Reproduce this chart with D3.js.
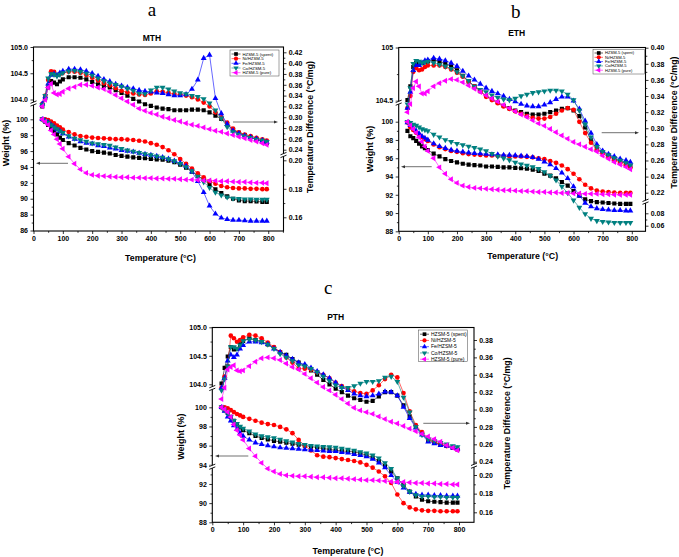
<!DOCTYPE html>
<html lang="en">
<head>
<meta charset="utf-8">
<title>TGA / DTA of spent HZSM-5 catalysts</title>
<script src="https://d3js.org/d3.v7.min.js"></script>
<style>
  body { margin: 0; background: #fff; }
  svg { display: block; font-family: Arial, "Liberation Sans", sans-serif; }
</style>
</head>
<body>
<script>
// ---------- data ----------
const tempC = [30, 40, 50, 60, 70, 80, 90,
  100, 120, 140, 160, 180, 200, 220, 240, 260, 280,
  300, 320, 340, 360, 380, 400, 420, 440, 460, 480,
  500, 520, 540, 560, 580, 600, 620, 640, 660, 680,
  700, 720, 740, 760, 780, 795];

const seriesNames = ['HZSM-5 (spent)', 'Ni/HZSM-5', 'Fe/HZSM-5', 'Co/HZSM-5', 'HZSM-5 (pure)'];

const tempTicks = [0, 100, 200, 300, 400, 500, 600, 700, 800];
const mthWtTicks = [86, 88, 90, 92, 94, 96, 98, 100];
const mthWtUpTicks = [104.0, 104.5, 105.0];
const mthDtaTicks = [0.24, 0.26, 0.28, 0.30, 0.32, 0.34, 0.36, 0.38, 0.40, 0.42];
const mthDtaLowTicks = [0.16, 0.18, 0.20];
const ethWtTicks = [88, 90, 92, 94, 96, 98, 100];
const ethWtUpTicks = [104.5, 105];
const ethDtaTicks = [0.22, 0.24, 0.26, 0.28, 0.30, 0.32, 0.34, 0.36, 0.38, 0.40];
const ethDtaLowTicks = [0.06, 0.08];
const pthWtTicks = [88, 90, 92, 94, 96, 98, 100];
const pthWtUpTicks = [104.0, 104.5, 105.0];
const pthDtaTicks = [0.24, 0.26, 0.28, 0.30, 0.32, 0.34, 0.36, 0.38];
const pthDtaLowTicks = [0.16, 0.18, 0.20];

// MTH weight (%)
const mthWtSpent = [100.0, 99.7, 99.3, 98.9, 98.5, 98.1, 97.7,
  97.4, 97.0, 96.7, 96.4, 96.2, 96.0, 95.9, 95.8, 95.7, 95.5,
  95.4, 95.3, 95.2, 95.15, 95.1, 95.0, 94.95, 94.9, 94.8, 94.6,
  94.3, 93.9, 93.4, 92.9, 92.4, 91.8, 91.2, 90.7, 90.3, 90.0,
  89.8, 89.7, 89.7, 89.65, 89.6, 89.6];
const mthWtNi = [100.0, 100.0, 99.9, 99.7, 99.5, 99.2, 99.0,
  98.7, 98.4, 98.1, 97.9, 97.8, 97.7, 97.65, 97.6, 97.55, 97.5,
  97.5, 97.45, 97.4, 97.3, 97.2, 97.0, 96.8, 96.5, 96.1, 95.6,
  95.0, 94.4, 93.8, 93.2, 92.7, 92.2, 91.9, 91.6, 91.45, 91.35,
  91.3, 91.3, 91.25, 91.25, 91.2, 91.2];
const mthWtFe = [100.0, 99.8, 99.6, 99.3, 99.0, 98.7, 98.5,
  98.2, 97.8, 97.5, 97.2, 97.0, 96.9, 96.7, 96.6, 96.4, 96.3,
  96.1, 96.0, 95.9, 95.75, 95.6, 95.5, 95.35, 95.2, 95.0, 94.75,
  94.5, 94.1, 93.4, 92.2, 90.8, 89.1, 88.1, 87.6, 87.4, 87.3,
  87.3, 87.25, 87.2, 87.2, 87.2, 87.2];
const mthWtCo = [100.0, 99.8, 99.6, 99.3, 99.0, 98.8, 98.5,
  98.3, 97.9, 97.6, 97.4, 97.2, 97.0, 96.9, 96.8, 96.7, 96.5,
  96.3, 96.1, 95.95, 95.8, 95.65, 95.5, 95.35, 95.2, 95.0, 94.75,
  94.4, 94.0, 93.5, 92.8, 92.1, 91.4, 90.8, 90.45, 90.2, 90.05,
  90.0, 89.95, 89.95, 89.9, 89.9, 89.9];
const mthWtPure = [100.0, 99.7, 99.3, 98.6, 98.1, 97.5, 96.9,
  96.3, 95.3, 94.4, 93.7, 93.25, 93.0, 92.9, 92.85, 92.8, 92.75,
  92.7, 92.7, 92.65, 92.65, 92.6, 92.6, 92.55, 92.55, 92.5, 92.5,
  92.45, 92.4, 92.4, 92.35, 92.3, 92.3, 92.25, 92.2, 92.2, 92.15,
  92.1, 92.1, 92.05, 92.0, 92.0, 91.95];

// MTH temperature difference (°C/mg)
const mthDtaSpent = [0.320, 0.335, 0.355, 0.367, 0.364, 0.361, 0.366,
  0.370, 0.374, 0.374, 0.373, 0.370, 0.365, 0.361, 0.358, 0.355, 0.350,
  0.345, 0.340, 0.334, 0.329, 0.324, 0.321, 0.318, 0.316, 0.315, 0.313,
  0.313, 0.313, 0.314, 0.314, 0.313, 0.309, 0.303, 0.297, 0.287, 0.277,
  0.271, 0.267, 0.263, 0.259, 0.255, 0.252];
const mthDtaNi = [0.325, 0.340, 0.369, 0.385, 0.384, 0.378, 0.380,
  0.382, 0.384, 0.384, 0.382, 0.378, 0.373, 0.368, 0.363, 0.359, 0.354,
  0.349, 0.346, 0.344, 0.342, 0.341, 0.344, 0.348, 0.347, 0.345, 0.343,
  0.342, 0.340, 0.337, 0.333, 0.327, 0.320, 0.309, 0.300, 0.290, 0.279,
  0.272, 0.268, 0.265, 0.262, 0.259, 0.257];
const mthDtaFe = [0.325, 0.338, 0.362, 0.378, 0.380, 0.378, 0.382,
  0.385, 0.389, 0.389, 0.388, 0.385, 0.381, 0.376, 0.370, 0.366, 0.361,
  0.358, 0.355, 0.353, 0.350, 0.348, 0.347, 0.345, 0.344, 0.342, 0.340,
  0.340, 0.342, 0.352, 0.369, 0.409, 0.415, 0.335, 0.307, 0.287, 0.275,
  0.270, 0.266, 0.263, 0.260, 0.257, 0.254];
const mthDtaCo = [0.323, 0.340, 0.372, 0.380, 0.379, 0.376, 0.379,
  0.382, 0.385, 0.386, 0.384, 0.381, 0.377, 0.372, 0.367, 0.363, 0.360,
  0.357, 0.353, 0.349, 0.344, 0.343, 0.350, 0.355, 0.355, 0.352, 0.348,
  0.345, 0.343, 0.340, 0.338, 0.334, 0.326, 0.313, 0.298, 0.282, 0.273,
  0.268, 0.265, 0.262, 0.259, 0.257, 0.255];
const mthDtaPure = [0.320, 0.332, 0.355, 0.362, 0.345, 0.342, 0.343,
  0.347, 0.353, 0.356, 0.360, 0.360, 0.358, 0.355, 0.352, 0.347, 0.341,
  0.335, 0.329, 0.323, 0.316, 0.312, 0.308, 0.305, 0.301, 0.298, 0.295,
  0.292, 0.289, 0.286, 0.284, 0.281, 0.278, 0.275, 0.273, 0.270, 0.267,
  0.264, 0.261, 0.258, 0.255, 0.252, 0.249];

// ETH weight (%)
const ethWtSpent = [99.0, 98.4, 98.2, 97.9, 97.6, 97.3, 97.1,
  96.9, 96.5, 96.2, 95.9, 95.7, 95.55, 95.4, 95.3, 95.25, 95.2,
  95.1, 95.1, 95.05, 95.0, 95.0, 94.95, 94.9, 94.85, 94.75, 94.6,
  94.3, 94.1, 93.8, 93.4, 93.0, 92.4, 91.9, 91.5, 91.3, 91.2,
  91.15, 91.1, 91.05, 91.0, 91.0, 91.0];
const ethWtNi = [99.9, 99.4, 99.1, 98.8, 98.6, 98.3, 98.1,
  97.9, 97.5, 97.2, 97.0, 96.8, 96.7, 96.55, 96.45, 96.4, 96.35,
  96.3, 96.3, 96.25, 96.25, 96.2, 96.2, 96.2, 96.15, 96.1, 96.0,
  95.9, 95.7, 95.5, 95.2, 94.8, 94.3, 93.7, 93.1, 92.7, 92.45,
  92.35, 92.3, 92.25, 92.2, 92.2, 92.2];
const ethWtFe = [99.9, 99.6, 99.3, 99.0, 98.7, 98.4, 98.2,
  98.0, 97.6, 97.3, 97.1, 96.9, 96.8, 96.7, 96.6, 96.55, 96.5,
  96.45, 96.4, 96.4, 96.35, 96.35, 96.3, 96.25, 96.2, 96.1, 95.9,
  95.6, 95.3, 94.9, 94.4, 93.8, 92.9, 91.9, 91.1, 90.7, 90.5,
  90.4, 90.35, 90.3, 90.3, 90.25, 90.25];
const ethWtCo = [100.0, 99.9, 99.7, 99.6, 99.4, 99.2, 99.1,
  99.0, 98.6, 98.3, 98.0, 97.8, 97.6, 97.45, 97.3, 97.15, 97.0,
  96.8, 96.5, 96.2, 96.0, 95.8, 95.55, 95.35, 95.2, 95.05, 94.85,
  94.5, 94.1, 93.6, 92.9, 92.2, 91.4, 90.6, 89.9, 89.4, 89.15,
  89.05, 89.0, 88.95, 88.95, 88.95, 88.95];
const ethWtPure = [100.0, 99.6, 99.2, 98.8, 98.3, 97.8, 97.3,
  96.8, 96.0, 95.0, 94.3, 93.7, 93.3, 93.0, 92.85, 92.75, 92.7,
  92.65, 92.6, 92.55, 92.5, 92.5, 92.45, 92.4, 92.4, 92.35, 92.3,
  92.3, 92.25, 92.25, 92.2, 92.2, 92.15, 92.15, 92.1, 92.1, 92.1,
  92.05, 92.05, 92.0, 92.0, 92.0, 92.0];

// ETH temperature difference (°C/mg)
const ethDtaSpent = [0.335, 0.352, 0.376, 0.381, 0.381, 0.381, 0.382,
  0.383, 0.385, 0.383, 0.380, 0.377, 0.372, 0.365, 0.358, 0.352, 0.346,
  0.340, 0.336, 0.332, 0.328, 0.325, 0.322, 0.320, 0.318, 0.317, 0.317,
  0.318, 0.320, 0.322, 0.324, 0.325, 0.322, 0.315, 0.301, 0.285, 0.274,
  0.270, 0.266, 0.262, 0.259, 0.256, 0.253];
const ethDtaNi = [0.325, 0.340, 0.370, 0.375, 0.372, 0.373, 0.376,
  0.378, 0.378, 0.378, 0.376, 0.373, 0.369, 0.364, 0.358, 0.352, 0.346,
  0.339, 0.335, 0.331, 0.327, 0.324, 0.321, 0.318, 0.315, 0.313, 0.312,
  0.312, 0.314, 0.318, 0.322, 0.325, 0.323, 0.308, 0.294, 0.282, 0.273,
  0.269, 0.264, 0.260, 0.257, 0.254, 0.251];
const ethDtaFe = [0.325, 0.345, 0.372, 0.378, 0.378, 0.381, 0.384,
  0.385, 0.387, 0.386, 0.384, 0.381, 0.377, 0.371, 0.365, 0.360, 0.355,
  0.350, 0.346, 0.343, 0.340, 0.336, 0.333, 0.330, 0.328, 0.327, 0.327,
  0.329, 0.332, 0.336, 0.339, 0.339, 0.334, 0.324, 0.309, 0.294, 0.280,
  0.272, 0.268, 0.265, 0.262, 0.260, 0.258];
const ethDtaCo = [0.330, 0.350, 0.380, 0.384, 0.383, 0.381, 0.382,
  0.383, 0.381, 0.379, 0.377, 0.374, 0.370, 0.365, 0.359, 0.352, 0.348,
  0.345, 0.341, 0.338, 0.336, 0.335, 0.337, 0.340, 0.342, 0.344, 0.345,
  0.346, 0.347, 0.347, 0.346, 0.342, 0.335, 0.322, 0.305, 0.289, 0.277,
  0.271, 0.267, 0.263, 0.260, 0.257, 0.254];
const ethDtaPure = [0.320, 0.330, 0.350, 0.358, 0.352, 0.343, 0.343,
  0.346, 0.352, 0.356, 0.359, 0.361, 0.360, 0.357, 0.353, 0.349, 0.345,
  0.341, 0.337, 0.333, 0.329, 0.325, 0.321, 0.317, 0.314, 0.310, 0.306,
  0.303, 0.299, 0.295, 0.291, 0.287, 0.283, 0.280, 0.277, 0.274, 0.271,
  0.266, 0.262, 0.258, 0.255, 0.252, 0.249];

// PTH weight (%)
const pthWtSpent = [100.0, 99.7, 99.4, 99.0, 98.6, 98.2, 97.9,
  97.6, 97.3, 97.0, 96.8, 96.65, 96.5, 96.4, 96.3, 96.2, 96.1,
  96.0, 95.9, 95.8, 95.7, 95.6, 95.5, 95.45, 95.4, 95.35, 95.2,
  95.0, 94.75, 94.4, 93.9, 93.3, 92.6, 91.9, 91.2, 90.7, 90.35,
  90.2, 90.15, 90.1, 90.05, 90.05, 90.05];
const pthWtNi = [100.0, 100.0, 99.9, 99.7, 99.5, 99.3, 99.15,
  99.0, 98.8, 98.6, 98.4, 98.25, 98.15, 97.95, 97.7, 97.3, 96.6,
  96.0, 95.5, 95.0, 94.85, 94.8, 94.7, 94.6, 94.5, 94.4, 94.25,
  94.0, 93.7, 93.3, 92.8, 92.1, 90.9, 90.0, 89.55, 89.35, 89.25,
  89.2, 89.2, 89.15, 89.15, 89.15, 89.15];
const pthWtFe = [100.0, 99.6, 99.0, 98.6, 98.1, 97.7, 97.3,
  97.0, 96.6, 96.3, 96.15, 96.0, 95.9, 95.8, 95.75, 95.7, 95.65,
  95.6, 95.55, 95.5, 95.45, 95.4, 95.4, 95.3, 95.25, 95.1, 95.0,
  94.85, 94.6, 94.2, 93.7, 92.9, 92.2, 91.6, 91.15, 90.95, 90.85,
  90.85, 90.8, 90.8, 90.75, 90.75, 90.75];
const pthWtCo = [100.0, 99.7, 99.4, 99.0, 98.6, 98.3, 98.0,
  97.8, 97.5, 97.2, 97.0, 96.9, 96.8, 96.65, 96.5, 96.35, 96.2,
  96.1, 96.0, 95.95, 95.9, 95.85, 95.8, 95.7, 95.6, 95.5, 95.35,
  95.2, 95.0, 94.7, 94.2, 93.6, 92.6, 91.8, 91.2, 90.85, 90.7,
  90.7, 90.65, 90.65, 90.6, 90.6, 90.6];
const pthWtPure = [100.0, 99.8, 99.5, 99.0, 98.2, 97.6, 97.1,
  96.6, 95.7, 94.9, 94.2, 93.6, 93.3, 93.05, 92.9, 92.85, 92.8,
  92.8, 92.75, 92.7, 92.7, 92.65, 92.6, 92.6, 92.55, 92.5, 92.45,
  92.4, 92.4, 92.35, 92.3, 92.25, 92.2, 92.2, 92.15, 92.1, 92.1,
  92.05, 92.05, 92.0, 92.0, 91.95, 91.95];

// PTH temperature difference (°C/mg)
const pthDtaSpent = [0.330, 0.348, 0.361, 0.372, 0.369, 0.370, 0.375,
  0.379, 0.382, 0.380, 0.378, 0.375, 0.371, 0.366, 0.363, 0.358, 0.354,
  0.350, 0.345, 0.340, 0.334, 0.329, 0.324, 0.320, 0.316, 0.313, 0.311,
  0.309, 0.310, 0.315, 0.320, 0.320, 0.316, 0.305, 0.292, 0.280, 0.273,
  0.265, 0.262, 0.260, 0.258, 0.256, 0.254];
const pthDtaNi = [0.325, 0.338, 0.350, 0.385, 0.382, 0.378, 0.380,
  0.383, 0.386, 0.385, 0.382, 0.377, 0.372, 0.366, 0.360, 0.354, 0.347,
  0.347, 0.346, 0.343, 0.340, 0.336, 0.331, 0.327, 0.324, 0.321, 0.319,
  0.318, 0.322, 0.328, 0.335, 0.340, 0.337, 0.319, 0.298, 0.282, 0.274,
  0.266, 0.263, 0.260, 0.258, 0.256, 0.254];
const pthDtaFe = [0.325, 0.336, 0.356, 0.363, 0.360, 0.363, 0.370,
  0.374, 0.378, 0.378, 0.377, 0.375, 0.370, 0.366, 0.362, 0.358, 0.354,
  0.352, 0.348, 0.344, 0.340, 0.336, 0.331, 0.326, 0.322, 0.318, 0.316,
  0.315, 0.316, 0.318, 0.3205, 0.320, 0.316, 0.303, 0.290, 0.279, 0.271,
  0.263, 0.261, 0.259, 0.258, 0.256, 0.255];
const pthDtaCo = [0.322, 0.335, 0.350, 0.372, 0.372, 0.370, 0.374,
  0.379, 0.381, 0.380, 0.378, 0.375, 0.370, 0.364, 0.360, 0.356, 0.351,
  0.350, 0.347, 0.343, 0.338, 0.333, 0.328, 0.325, 0.325, 0.327, 0.330,
  0.332, 0.332, 0.333, 0.337, 0.338, 0.332, 0.314, 0.297, 0.280, 0.271,
  0.266, 0.264, 0.262, 0.260, 0.258, 0.257];
const pthDtaPure = [0.312, 0.325, 0.346, 0.349, 0.351, 0.345, 0.344,
  0.345, 0.350, 0.355, 0.359, 0.360, 0.359, 0.357, 0.353, 0.349, 0.346,
  0.341, 0.336, 0.331, 0.326, 0.322, 0.317, 0.312, 0.307, 0.302, 0.299,
  0.297, 0.295, 0.292, 0.289, 0.286, 0.284, 0.281, 0.278, 0.275, 0.272,
  0.269, 0.266, 0.263, 0.259, 0.256, 0.253];

// ---------- panels ----------
const panels = [
  { letter: 'a', title: 'MTH',
    weight: [mthWtSpent, mthWtNi, mthWtFe, mthWtCo, mthWtPure],
    dta: [mthDtaSpent, mthDtaNi, mthDtaFe, mthDtaCo, mthDtaPure],
    left: 33.5, right: 283.5, top: 47, bottom: 231, xMax: 852,
    wTicks: mthWtTicks, wDomain: [86, 100], wRange: [230.5, 119.3],
    wuTicks: mthWtUpTicks, wuFmt: d3.format('.1f'), wuDomain: [104, 105], wuRange: [99.5, 47],
    dTicks: mthDtaTicks, dDomain: [0.24, 0.42], dRange: [149.7, 52.3],
    dlTicks: mthDtaLowTicks, dlDomain: [0.16, 0.20], dlRange: [217.3, 160.3],
    leftBreaks: [103.5], rightBreaks: [155],
    legend: { x0: 230, y0: 50, x1: 279, y1: 76, row0: 54, step: 4.67, font: 4.3, lx0: 231.5, lx1: 240.5, tx: 242.5 },
    arrows: [[68, 163.3, 36], [233, 122, 278]],
    pos: { letter: [152, 16], title: [152, 40.5], xTitle: [160.5, 261], yTitle: [8.5, 143], rTitle: [313, 127] } },
  { letter: 'b', title: 'ETH',
    weight: [ethWtSpent, ethWtNi, ethWtFe, ethWtCo, ethWtPure],
    dta: [ethDtaSpent, ethDtaNi, ethDtaFe, ethDtaCo, ethDtaPure],
    left: 398.7, right: 645.5, top: 47.5, bottom: 231.3, xMax: 847,
    wTicks: ethWtTicks, wDomain: [88, 100], wRange: [231.3, 121.7],
    wuTicks: ethWtUpTicks, wuFmt: d => d === 105 ? '105' : '104.5', wuDomain: [104.5, 105], wuRange: [100.7, 47.5],
    dTicks: ethDtaTicks, dDomain: [0.22, 0.40], dRange: [192.7, 47.7],
    dlTicks: ethDtaLowTicks, dlDomain: [0.06, 0.08], dlRange: [225.7, 213.3],
    leftBreaks: [102.7], rightBreaks: [201.7],
    legend: { x0: 593, y0: 49.5, x1: 644.5, y1: 74, row0: 53, step: 4.3, font: 4.1, lx0: 594.5, lx1: 603, tx: 605 },
    arrows: [[431.7, 166.7, 401], [601.7, 132.7, 639]],
    pos: { letter: [515.7, 17.5], title: [516.7, 36], xTitle: [522.7, 258.5], yTitle: [373, 149], rTitle: [676.5, 122.5] } },
  { letter: 'c', title: 'PTH',
    weight: [pthWtSpent, pthWtNi, pthWtFe, pthWtCo, pthWtPure],
    dta: [pthDtaSpent, pthDtaNi, pthDtaFe, pthDtaCo, pthDtaPure],
    left: 212.3, right: 474, top: 327.5, bottom: 522.3, xMax: 848.6,
    wTicks: pthWtTicks, wDomain: [88, 100], wRange: [522.3, 407.3],
    wuTicks: pthWtUpTicks, wuFmt: d3.format('.1f'), wuDomain: [104, 105], wuRange: [384.3, 327.3],
    dTicks: pthDtaTicks, dDomain: [0.24, 0.38], dRange: [461.7, 340],
    dlTicks: pthDtaLowTicks, dlDomain: [0.16, 0.20], dlRange: [512.3, 475],
    leftBreaks: [388, 466.7], rightBreaks: [465.7],
    legend: { x0: 418.3, y0: 330, x1: 467.7, y1: 361.7, row0: 334.2, step: 6.25, font: 5, lx0: 420, lx1: 429, tx: 431 },
    arrows: [[248.3, 456, 215], [423.3, 423.3, 470]],
    pos: { letter: [328.3, 294], title: [335.7, 319.5], xTitle: [348, 554], yTitle: [184, 436.7], rTitle: [510, 423.3] } }
];

const colors = ['#000000', '#ff0000', '#0000ff', '#008080', '#ff00ff'];
const shapes = [d3.symbolSquare, d3.symbolCircle, d3.symbolTriangle, d3.symbolTriangle, d3.symbolTriangle];
const angles = [0, 0, 0, 180, -90];
const sizes = [17, 17, 15, 15, 15];

const svg = d3.select('body')
              .append('svg')
              .attr('width', 679)
              .attr('height', 557);

panels.forEach((p, i) => drawPanel(p, i));

function styleTicks(sel, size) {
  sel.select('.domain').remove();
  sel.selectAll('line').attr('stroke', '#000').attr('stroke-width', 0.8);
  sel.selectAll('text')
     .attr('font-size', size)
     .attr('font-weight', 'bold')
     .attr('fill', '#000')
     .attr('font-family', 'Arial, "Liberation Sans", sans-serif');
}

function minorOf(ticks) {
  const out = [];
  for (let k = 0; k < ticks.length - 1; k++) out.push((ticks[k] + ticks[k + 1]) / 2);
  return out;
}

function drawPanel(p, idx) {
  const g = svg.append('g');

  const x = d3.scaleLinear().domain([0, p.xMax]).range([p.left, p.right]);
  const yW = d3.scaleLinear().domain(p.wDomain).range(p.wRange);
  const yWU = d3.scaleLinear().domain(p.wuDomain).range(p.wuRange);
  const yD = d3.scaleLinear().domain(p.dDomain).range(p.dRange);
  const yDL = d3.scaleLinear().domain(p.dlDomain).range(p.dlRange);

  // frame
  g.append('rect')
   .attr('x', p.left).attr('y', p.top)
   .attr('width', p.right - p.left).attr('height', p.bottom - p.top)
   .attr('fill', 'none').attr('stroke', '#000').attr('stroke-width', 1.1);

  // x axis
  const xMinor = minorOf(tempTicks).concat([850]).filter(v => v < p.xMax);
  g.append('g').attr('transform', `translate(0,${p.bottom})`)
   .call(d3.axisBottom(x).tickValues(xMinor).tickSize(1.8).tickFormat(''))
   .call(s => styleTicks(s, 7));
  g.append('g').attr('transform', `translate(0,${p.bottom})`)
   .call(d3.axisBottom(x).tickValues(tempTicks).tickSize(3).tickPadding(2).tickFormat(d3.format('d')))
   .call(s => styleTicks(s, 7));

  // left axes (weight)
  [[yW, p.wTicks, d3.format('d')], [yWU, p.wuTicks, p.wuFmt]].forEach(([sc, ticks, fmt]) => {
    g.append('g').attr('transform', `translate(${p.left},0)`)
     .call(d3.axisLeft(sc).tickValues(minorOf(ticks)).tickSize(1.8).tickFormat(''))
     .call(s => styleTicks(s, 7));
    g.append('g').attr('transform', `translate(${p.left},0)`)
     .call(d3.axisLeft(sc).tickValues(ticks).tickSize(3).tickPadding(2.5).tickFormat(fmt))
     .call(s => styleTicks(s, 7));
  });

  // right axes (temperature difference)
  [[yD, p.dTicks], [yDL, p.dlTicks]].forEach(([sc, ticks]) => {
    g.append('g').attr('transform', `translate(${p.right},0)`)
     .call(d3.axisRight(sc).tickValues(minorOf(ticks)).tickSize(1.8).tickFormat(''))
     .call(s => styleTicks(s, 7));
    g.append('g').attr('transform', `translate(${p.right},0)`)
     .call(d3.axisRight(sc).tickValues(ticks).tickSize(3).tickPadding(2.2).tickFormat(d3.format('.2f')))
     .call(s => styleTicks(s, 7));
  });

  // axis breaks
  const breakMark = (ax, by) => {
    g.append('rect').attr('x', ax - 2.5).attr('y', by - 1.4).attr('width', 5).attr('height', 2.8).attr('fill', '#fff');
    [-1.4, 1.4].forEach(o => {
      g.append('line')
       .attr('x1', ax - 3).attr('y1', by + o + 1.2)
       .attr('x2', ax + 3).attr('y2', by + o - 1.2)
       .attr('stroke', '#000').attr('stroke-width', 0.9);
    });
  };
  p.leftBreaks.forEach(b => breakMark(p.left, b));
  p.rightBreaks.forEach(b => breakMark(p.right, b));

  // data
  const clipId = 'clip' + idx;
  svg.append('clipPath').attr('id', clipId)
     .append('rect').attr('x', p.left).attr('y', p.top)
     .attr('width', p.right - p.left).attr('height', p.bottom - p.top);
  const plot = g.append('g').attr('clip-path', `url(#${clipId})`);

  seriesNames.forEach((name, s) => {
    [[p.dta[s], yD], [p.weight[s], yW]].forEach(([vals, sc]) => {
      const pts = tempC.map((t, k) => [x(t), sc(vals[k])]);
      plot.append('path')
          .attr('d', d3.line()(pts))
          .attr('fill', 'none')
          .attr('stroke', colors[s])
          .attr('stroke-width', 0.6);
      plot.selectAll(null)
          .data(pts)
          .enter()
          .append('path')
          .attr('d', d3.symbol().type(shapes[s]).size(sizes[s]))
          .attr('transform', d => `translate(${d[0]},${d[1]}) rotate(${angles[s]})`)
          .attr('fill', colors[s]);
    });
  });

  // arrows
  p.arrows.forEach(([x1, y, x2]) => {
    const dir = x2 > x1 ? 1 : -1;
    g.append('line')
     .attr('x1', x1).attr('y1', y).attr('x2', x2 - dir * 3).attr('y2', y)
     .attr('stroke', '#333').attr('stroke-width', 0.7);
    g.append('path')
     .attr('d', `M${x2},${y} L${x2 - dir * 4},${y - 1.5} L${x2 - dir * 4},${y + 1.5} Z`)
     .attr('fill', '#333');
  });

  // legend
  const L = p.legend;
  g.append('rect')
   .attr('x', L.x0).attr('y', L.y0)
   .attr('width', L.x1 - L.x0).attr('height', L.y1 - L.y0)
   .attr('fill', '#fff').attr('stroke', '#444').attr('stroke-width', 0.5);
  seriesNames.forEach((name, s) => {
    const ry = L.row0 + s * L.step;
    g.append('line')
     .attr('x1', L.lx0).attr('y1', ry).attr('x2', L.lx1).attr('y2', ry)
     .attr('stroke', colors[s]).attr('stroke-width', 0.6);
    g.append('path')
     .attr('d', d3.symbol().type(shapes[s]).size(sizes[s] * 0.8))
     .attr('transform', `translate(${(L.lx0 + L.lx1) / 2},${ry}) rotate(${angles[s]})`)
     .attr('fill', colors[s]);
    g.append('text')
     .attr('x', L.tx).attr('y', ry + L.font * 0.35)
     .attr('font-size', L.font)
     .attr('fill', '#000')
     .text(name);
  });

  // texts
  g.append('text')
   .attr('x', p.pos.letter[0]).attr('y', p.pos.letter[1])
   .attr('text-anchor', 'middle')
   .attr('font-family', '"Liberation Serif", "Times New Roman", serif')
   .attr('font-size', 19)
   .text(p.letter);
  g.append('text')
   .attr('x', p.pos.title[0]).attr('y', p.pos.title[1])
   .attr('text-anchor', 'middle')
   .attr('font-size', 8.5).attr('font-weight', 'bold')
   .text(p.title);
  g.append('text')
   .attr('x', p.pos.xTitle[0]).attr('y', p.pos.xTitle[1])
   .attr('text-anchor', 'middle')
   .attr('font-size', 8.8).attr('font-weight', 'bold')
   .text('Temperature (°C)');
  g.append('text')
   .attr('transform', `translate(${p.pos.yTitle[0]},${p.pos.yTitle[1]}) rotate(-90)`)
   .attr('text-anchor', 'middle')
   .attr('font-size', 9).attr('font-weight', 'bold')
   .text('Weight (%)');
  g.append('text')
   .attr('transform', `translate(${p.pos.rTitle[0]},${p.pos.rTitle[1]}) rotate(-90)`)
   .attr('text-anchor', 'middle')
   .attr('font-size', 8.8).attr('font-weight', 'bold')
   .text('Temperature Difference (°C/mg)');
}
</script>
</body>
</html>
